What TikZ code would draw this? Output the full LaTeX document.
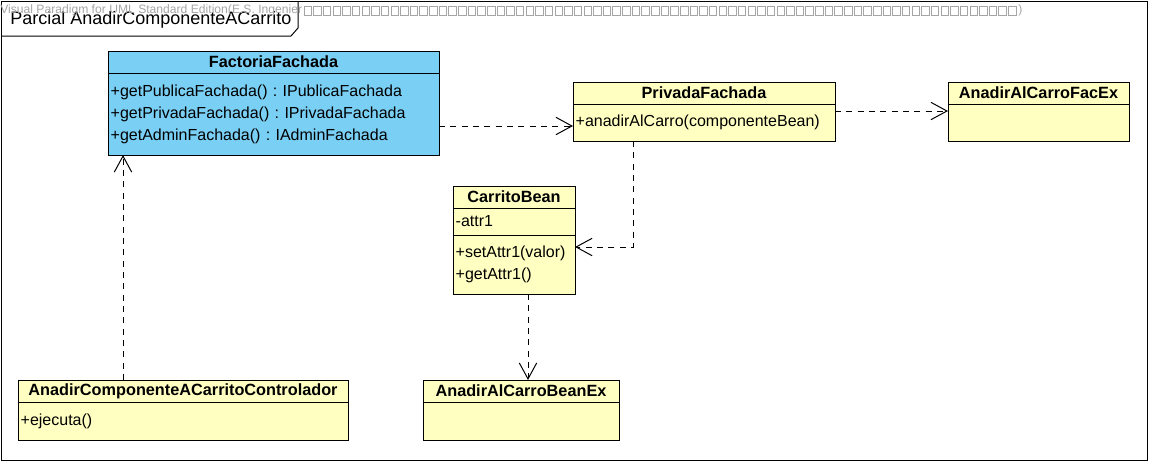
\documentclass[tikz,border=0pt]{standalone}
\usepackage{fontspec}
\setmainfont{Liberation Sans}
\usetikzlibrary{positioning,arrows.meta}
\frenchspacing

\definecolor{classyellow}{RGB}{255,255,194}
\definecolor{facblue}{RGB}{122,207,245}
\definecolor{wmgray}{RGB}{165,165,165}

\tikzset{
    classhead/.style={draw, line width=0.75pt, outer sep=0pt, inner sep=0pt,
        minimum height=16.5pt, font=\bfseries\fontsize{12.2}{16.5}\selectfont},
    classbody/.style={draw, line width=0.75pt, outer sep=0pt, inner xsep=2pt, inner ysep=0pt,
        align=left, font=\fontsize{12}{16.5}\selectfont},
    dep/.style={line width=0.75pt, dash pattern=on 4.5pt off 4pt,
        -{Straight Barb[length=12pt,width=13pt]}},
    wmbox/.style={draw=wmgray, line width=0.5pt}
}

\begin{document}
\begin{tikzpicture}[x=0.75pt,y=-0.75pt]

        \useasboundingbox (0,0) rectangle (1149,462);

        %Frame
        \draw[line width=0.75pt] (1,1) rectangle (1147,460);
        \draw[line width=0.75pt] (1,36) -- (291,36) -- (298,28) -- (298,1);
        \node[anchor=west, inner sep=0pt, font=\fontsize{13.5}{16}\selectfont] (title) at (10,20) {Parcial AnadirComponenteACarrito};

        %Watermark
        \node[anchor=west, inner sep=0pt, text=wmgray, font=\fontsize{9.1}{10}\selectfont] (wmark) at (0,10) {Visual Paradigm for UML Standard Edition(E.S. Ingenier};
        \foreach \i in {0,...,73}
            \draw[wmbox] (304+\i*9.65,6) rectangle ++(7.5,9);
        \node[anchor=west, inner sep=0pt, text=wmgray, font=\fontsize{9.1}{10}\selectfont] (wmend) at (1018,10) {)};

        %Classes
        %FactoriaFachada
        \node[classhead, fill=facblue, minimum width=248.25pt] (factoriaHead) at (273.5,62) {FactoriaFachada};
        \node[classbody, fill=facblue, minimum width=248.25pt, minimum height=61.5pt, text width=244.25pt, below=0pt of factoriaHead] (factoria)
            {+getPublicaFachada() : IPublicaFachada\\+getPrivadaFachada() : IPrivadaFachada\\+getAdminFachada() : IAdminFachada};

        %PrivadaFachada
        \node[classhead, fill=classyellow, minimum width=196.5pt] (privadaHead) at (704,93) {PrivadaFachada};
        \node[classbody, fill=classyellow, minimum width=196.5pt, minimum height=27.75pt, text width=192.5pt, below=0pt of privadaHead] (privada)
            {+anadirAlCarro(componenteBean)};

        %AnadirAlCarroFacEx
        \node[classhead, fill=classyellow, minimum width=135.75pt] (facexHead) at (1038.5,93) {AnadirAlCarroFacEx};
        \node[classbody, fill=classyellow, minimum width=135.75pt, minimum height=27.75pt, below=0pt of facexHead] (facex) {};

        %CarritoBean
        \node[classhead, fill=classyellow, minimum width=91.5pt] (carritoHead) at (514,197) {CarritoBean};
        \node[classbody, fill=classyellow, minimum width=91.5pt, minimum height=20.25pt, text width=87.5pt, below=0pt of carritoHead] (carritoAttr)
            {-attr1};
        \node[classbody, fill=classyellow, minimum width=91.5pt, minimum height=44.25pt, text width=87.5pt, below=0pt of carritoAttr] (carritoMeth)
            {+setAttr1(valor)\\+getAttr1()};

        %AnadirAlCarroBeanEx
        \node[classhead, fill=classyellow, minimum width=147pt] (beanexHead) at (521,391) {AnadirAlCarroBeanEx};
        \node[classbody, fill=classyellow, minimum width=147pt, minimum height=28.5pt, below=0pt of beanexHead] (beanex) {};

        %AnadirComponenteACarritoControlador
        \node[classhead, fill=classyellow, minimum width=247.5pt] (controlHead) at (183,391) {AnadirComponenteACarritoControlador};
        \node[classbody, fill=classyellow, minimum width=247.5pt, minimum height=28.5pt, text width=243.5pt, below=0pt of controlHead] (control)
            {+ejecuta()};

        %Dependencies
        \draw[dep] (factoria.east |- 0,126) -- (privada.west |- 0,126);

        \draw[dep] (privada.east |- 0,111) -- (facex.west |- 0,111);

        \draw[dep] (privada.south -| 633,0) |- (carritoMeth.east |- 0,247);

        \draw[dep] (carritoMeth.south -| 528,0) -- (beanexHead.north -| 528,0);

        \draw[dep] (controlHead.north -| 123,0) -- (factoria.south -| 123,0);

\end{tikzpicture}
\end{document}
